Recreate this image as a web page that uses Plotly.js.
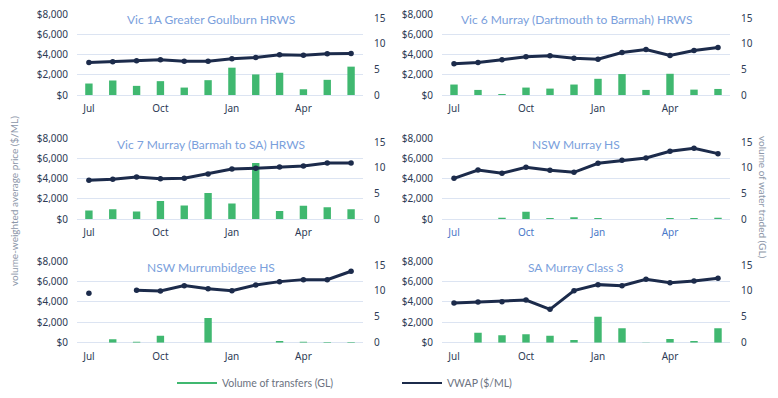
<!DOCTYPE html>
<html>
<head>
<meta charset="utf-8">
<script src="https://cdn.plot.ly/plotly-3.0.1.min.js"></script>
<style>html,body{margin:0;padding:0;background:#fff;}#chart{width:778px;height:398px;}</style>
</head>
<body>
<div id="chart"></div>
<script>
const months = ["Jul","Aug","Sep","Oct","Nov","Dec","Jan","Feb","Mar","Apr","May","Jun"];
const monthTicks = ["Jul","Oct","Jan","Apr"];
const priceTicks = [0, 2000, 4000, 6000, 8000];
const priceTickText = ["$0", "$2,000", "$4,000", "$6,000", "$8,000"];
const volumeTicks = [0, 5, 10, 15];

const panelTitles = [
  "Vic 1A Greater Goulburn HRWS",
  "Vic 6 Murray (Dartmouth to Barmah) HRWS",
  "Vic 7 Murray (Barmah to SA) HRWS",
  "NSW Murray HS",
  "NSW Murrumbidgee HS",
  "SA Murray Class 3"
];

// Volume of transfers (GL)
const volVic1A   = [2.24, 2.83, 1.78, 2.70, 1.45, 2.89, 5.33, 4.01, 4.34, 1.12, 2.96, 5.53];
const volVic6    = [2.04, 0.99, 0.20, 1.45, 1.25, 2.04, 3.16, 4.08, 0.99, 4.14, 1.05, 1.18];
const volVic7    = [1.65, 1.92, 1.45, 3.50, 2.64, 5.09, 3.04, 10.97, 1.59, 2.58, 2.31, 1.92];
const volNSWMur  = [0, 0, 0.26, 1.43, 0.20, 0.32, 0.20, 0, 0, 0.20, 0.20, 0.26];
const volNSWMbg  = [0, 0.65, 0.20, 1.36, 0, 4.80, 0, 0, 0.32, 0.20, 0.13, 0.13];
const volSA      = [0, 1.94, 1.42, 1.62, 1.36, 0.52, 5.04, 2.78, 0.06, 0.71, 0.32, 2.78];

// VWAP ($/ML)
const vwapVic1A  = [3210, 3280, 3380, 3475, 3345, 3345, 3575, 3705, 3967, 3934, 4066, 4098];
const vwapVic6   = [3082, 3213, 3475, 3770, 3869, 3639, 3541, 4197, 4492, 3902, 4393, 4689];
const vwapVic7   = [3835, 3934, 4165, 4000, 4033, 4463, 4959, 5025, 5157, 5256, 5554, 5554];
const vwapNSWMur = [4033, 4860, 4529, 5124, 4826, 4628, 5521, 5818, 6050, 6711, 7008, 6479];
const vwapNSWMbg = [4840, null, 5131, 5065, 5588, 5294, 5098, 5654, 5980, 6176, 6176, 6993];
const vwapSA     = [3889, 3987, 4020, 4183, 3268, 5098, 5686, 5588, 6209, 5882, 6046, 6307];

const volumes = [volVic1A, volVic6, volVic7, volNSWMur, volNSWMbg, volSA];
const vwaps = [vwapVic1A, vwapVic6, vwapVic7, vwapNSWMur, vwapNSWMbg, vwapSA];

const W = 778, H = 398;
const GREEN = "#40b870", NAVY = "#1c2b4b", GRID = "#dce4f2";
const TICK = "#2e3b55", TITLE = "#7aa0dc", AXT = "#8c96a8";
const FONT = "Noto Sans, Open Sans, sans-serif";
const TFONT = "Lato, Noto Sans, sans-serif";

// pixel boxes
const cols = [[77, 363], [442, 730]];
const rows = [[14, 95], [138.3, 219], [261, 342.7]];
const titleX = [211, 576];
const titleY = [19, 144, 267];

const traces = [];
const layout = {
  width: W, height: H,
  margin: {l: 0, r: 0, t: 0, b: 0},
  paper_bgcolor: "#fff", plot_bgcolor: "rgba(0,0,0,0)",
  font: {family: FONT, size: 10, color: TICK},
  bargap: 0.69,
  showlegend: true,
  legend: {
    orientation: "h", x: 172 / W, xanchor: "left", y: 1 - 383 / H, yanchor: "middle",
    font: {family: TFONT, size: 10.5, color: "#6b7280"},
    itemwidth: 40,
    entrywidth: 170, entrywidthmode: "pixels", bgcolor: "rgba(0,0,0,0)"
  },
  annotations: [],
  hovermode: false
};

for (let k = 0; k < 6; k++) {
  const c = cols[k % 2], r = rows[Math.floor(k / 2)];
  const xi = k + 1, yv = k + 1, yp = k + 7;
  layout["xaxis" + xi] = {
    domain: [c[0] / W, c[1] / W], anchor: "y" + yv,
    type: "category", range: [-0.5, 11.5],
    tickmode: "array", tickvals: monthTicks, ticktext: monthTicks,
    showgrid: false, zeroline: false, showline: false, ticks: "",
    ticklabelstandoff: 6,
    tickfont: {family: FONT, size: 10, color: k === 3 ? "#4a78c8" : TICK}
  };
  // base axis: volume (right side)
  layout["yaxis" + yv] = {
    domain: [1 - r[1] / H, 1 - r[0] / H], anchor: "x" + xi, side: "right",
    range: [0, 15.8], tickmode: "array", tickvals: volumeTicks,
    showgrid: false, zeroline: false, showline: false, ticks: "",
    ticklabelstandoff: 10,
    tickfont: {family: FONT, size: 10, color: TICK}
  };
  // overlay axis: price (left side) carrying the gridlines
  layout["yaxis" + yp] = {
    overlaying: "y" + yv, anchor: "x" + xi, side: "left",
    range: [0, 8000], tickmode: "array", tickvals: priceTicks, ticktext: priceTickText,
    showgrid: true, gridcolor: GRID, gridwidth: 1,
    zeroline: true, zerolinecolor: GRID, zerolinewidth: 1,
    showline: false, ticks: "", ticklabelstandoff: 8,
    tickfont: {family: FONT, size: 10, color: TICK}
  };
  traces.push({
    type: "bar", x: months, y: volumes[k], xaxis: "x" + xi, yaxis: "y" + yv,
    marker: {color: GREEN}, name: "Volume of transfers (GL)", showlegend: false
  });
  traces.push({
    type: "scatter", mode: "lines+markers", x: months, y: vwaps[k],
    xaxis: "x" + xi, yaxis: "y" + yp, connectgaps: false,
    line: {color: NAVY, width: 3}, marker: {color: NAVY, size: 5.5},
    name: "VWAP ($/ML)", showlegend: false
  });
  layout.annotations.push({
    xref: "paper", yref: "paper", x: titleX[k % 2] / W, y: 1 - titleY[Math.floor(k / 2)] / H,
    xanchor: "center", yanchor: "middle", showarrow: false,
    text: panelTitles[k], font: {family: TFONT, size: 12, color: TITLE},
    bgcolor: "#ffffff", borderpad: 3
  });
}

// legend entries
traces.push({type: "scatter", mode: "lines", x: [null], y: [null], xaxis: "x1", yaxis: "y1",
  line: {color: GREEN, width: 2}, name: "Volume of transfers (GL)", showlegend: true});
traces.push({type: "scatter", mode: "lines", x: [null], y: [null], xaxis: "x1", yaxis: "y7",
  line: {color: NAVY, width: 2}, name: "VWAP ($/ML)", showlegend: true});

// axis titles
layout.annotations.push({
  xref: "paper", yref: "paper", x: 14 / W, y: 1 - 201 / H, xanchor: "center", yanchor: "middle",
  showarrow: false, textangle: -90, text: "volume-weighted average price ($/ML)",
  font: {family: TFONT, size: 10, color: AXT}
});
layout.annotations.push({
  xref: "paper", yref: "paper", x: 763 / W, y: 1 - 197 / H, xanchor: "center", yanchor: "middle",
  showarrow: false, textangle: 90, text: "volume of water traded (GL)",
  font: {family: TFONT, size: 10, color: AXT}
});

Plotly.newPlot("chart", traces, layout, {displayModeBar: false, staticPlot: true});
</script>
</body>
</html>
